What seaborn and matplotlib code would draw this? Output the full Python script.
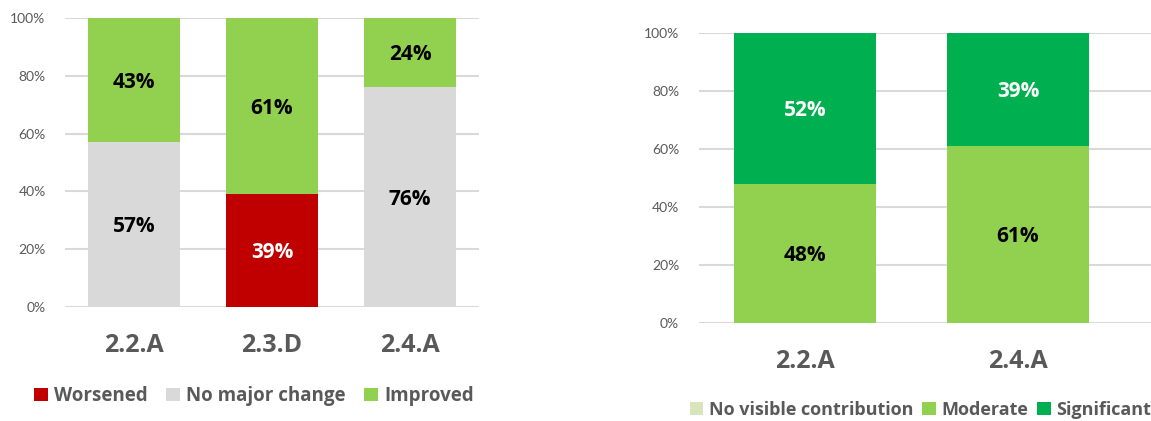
import matplotlib
matplotlib.use("Agg")
import matplotlib.pyplot as plt
import matplotlib.transforms as mtransforms
import seaborn as sns
import numpy as np
import pandas as pd
from matplotlib.patches import Patch
from matplotlib.ticker import FuncFormatter

# ---- data ----
left_categories = ["2.2.A", "2.3.D", "2.4.A"]
left_series = ["Worsened", "No major change", "Improved"]
left_worsened = [0, 39, 0]
left_no_change = [57, 0, 76]
left_improved = [43, 61, 24]

right_categories = ["2.2.A", "2.4.A"]
right_series = ["No visible contribution", "Moderate", "Significant"]
right_no_visible = [0, 0]
right_moderate = [48, 61]
right_significant = [52, 39]

y_ticks = [0, 20, 40, 60, 80, 100]

# ---- style ----
sns.set_theme(style="white")
plt.rcParams["font.family"] = ["Lato", "DejaVu Sans"]
BOLD = ["Open Sans", "DejaVu Sans"]
TXT = "#595959"
GRID = "#D9D9D9"
left_colors = ["#C00000", "#D9D9D9", "#92D050"]
left_text_colors = ["white", "black", "black"]
right_colors = ["#D8E4BC", "#92D050", "#00B050"]
right_text_colors = ["black", "black", "white"]

fig = plt.figure(figsize=(11.51, 4.21), dpi=100)
ax1 = fig.add_axes([65 / 1151, 1 - 307 / 421, 414 / 1151, (307 - 18) / 421])
ax2 = fig.add_axes([698.5 / 1151, 1 - 323 / 421, (1151 - 698.5) / 1151, (323 - 33) / 421])


def stacked(ax, cats, series_vals, colors, text_colors, xlim):
    vals = np.array(series_vals, dtype=float)
    cum = np.cumsum(vals, axis=0)
    n = len(series_vals)
    for i in range(n - 1, -1, -1):
        df = pd.DataFrame({"cat": cats, "v": cum[i]})
        sns.barplot(data=df, x="cat", y="v", color=colors[i], saturation=1,
                    width=0.667, ax=ax, zorder=2 + (n - i), linewidth=0)
    tr = mtransforms.offset_copy(ax.transData, fig=fig, x=0, y=-2, units="dots")
    for i in range(n):
        for j, c in enumerate(cats):
            v = vals[i, j]
            if v > 0:
                bottom = cum[i, j] - v
                ax.text(j, bottom + v / 2, f"{int(v)}%", ha="center", va="center",
                        fontsize=15, fontweight="bold", family=BOLD,
                        color=text_colors[i], zorder=10, transform=tr)
    ax.set_ylim(0, 100)
    ax.set_xlim(*xlim)
    ax.set_yticks(y_ticks)
    ax.yaxis.set_major_formatter(FuncFormatter(lambda v, p: f"{int(v)}%"))
    ax.grid(axis="y", color=GRID, linewidth=1.5, zorder=0)
    ax.set_axisbelow(True)
    for s in ax.spines.values():
        s.set_visible(False)
    ax.set_xlabel("")
    ax.set_ylabel("")
    ax.tick_params(axis="y", labelsize=10, labelcolor=TXT, length=0, pad=14)
    ax.tick_params(axis="x", labelcolor=TXT, length=0, pad=19)
    for lab in ax.get_xticklabels():
        lab.set_fontweight("bold")
        lab.set_family(BOLD)
        lab.set_fontsize(18)


stacked(ax1, left_categories, [left_worsened, left_no_change, left_improved],
        left_colors, left_text_colors, (-0.5, 2.5))
stacked(ax2, right_categories, [right_no_visible, right_moderate, right_significant],
        right_colors, right_text_colors, (-0.5, (1151 - 698.5) / 213 - 0.5))

h1 = [Patch(facecolor=c, edgecolor="none") for c in left_colors]
fig.legend(h1, left_series, loc="center", bbox_to_anchor=(254 / 1151, 1 - 396 / 421),
           ncol=3, frameon=False, handlelength=0.75, handleheight=0.75,
           handletextpad=0.3, columnspacing=1.0,
           prop={"size": 13.5, "weight": "bold", "family": BOLD}, labelcolor=TXT)
h2 = [Patch(facecolor=c, edgecolor="none") for c in right_colors]
fig.legend(h2, right_series, loc="center right", bbox_to_anchor=(1.0, 1 - 410 / 421),
           ncol=3, frameon=False, handlelength=0.75, handleheight=0.75,
           handletextpad=0.3, columnspacing=0.5, borderpad=0.0, borderaxespad=0.0,
           prop={"size": 13, "weight": "bold", "family": BOLD}, labelcolor=TXT)

fig.savefig("out.png", dpi=100)
